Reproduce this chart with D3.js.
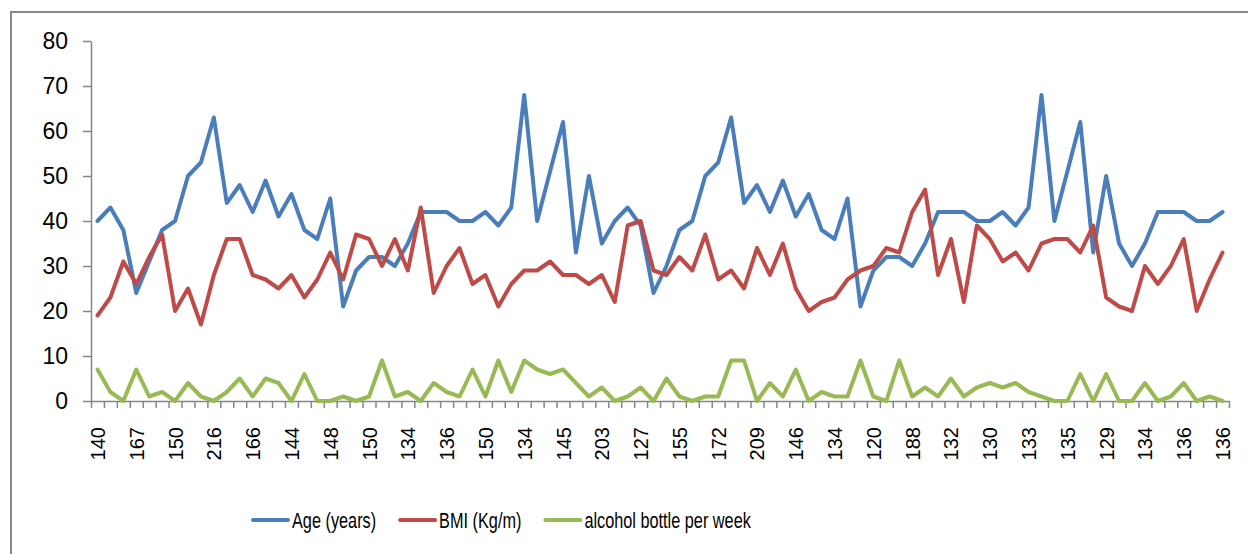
<!DOCTYPE html>
<html>
<head>
<meta charset="utf-8">
<script src="https://cdn.jsdelivr.net/npm/d3@7"></script>
<style>
  body { margin: 0; background: #fff; }
  svg { display: block; }
</style>
</head>
<body>
<svg width="1248" height="554"></svg>
<script>
// every third category label, as shown on the axis
var tickLabels = [140,167,150,216,166,144,148,150,134,136,150,134,145,203,127,
                  155,172,209,146,134,120,188,132,130,133,135,129,134,136,136];

var age = [40,43,38,24,31,38,40,50,53,63,44,48,42,49,41,46,38,36,45,21,29,32,32,30,35,42,42,42,40,40,
           42,39,43,68,40,51,62,33,50,35,40,43,39,24,30,38,40,50,53,63,44,48,42,49,41,46,38,36,45,21,
           29,32,32,30,35,42,42,42,40,40,42,39,43,68,40,51,62,33,50,35,30,35,42,42,42,40,40,42];

var bmi = [19,23,31,26,32,37,20,25,17,28,36,36,28,27,25,28,23,27,33,27,37,36,30,36,29,43,24,30,34,26,
           28,21,26,29,29,31,28,28,26,28,22,39,40,29,28,32,29,37,27,29,25,34,28,35,25,20,22,23,27,29,
           30,34,33,42,47,28,36,22,39,36,31,33,29,35,36,36,33,39,23,21,20,30,26,30,36,20,27,33];

var alcohol = [7,2,0,7,1,2,0,4,1,0,2,5,1,5,4,0,6,0,0,1,0,1,9,1,2,0,4,2,1,7,
               1,9,2,9,7,6,7,4,1,3,0,1,3,0,5,1,0,1,1,9,9,0,4,1,7,0,2,1,1,9,
               1,0,9,1,3,1,5,1,3,4,3,4,2,1,0,0,6,0,6,0,0,4,0,1,4,0,1,0];

var seriesNames = ["Age (years)", "BMI (Kg/m)", "alcohol bottle per week"];
var seriesColors = ["#4a7ebb", "#be4b48", "#98b954"];
var seriesData = [age, bmi, alcohol];

var yTicks = [0,10,20,30,40,50,60,70,80];

var svg = d3.select("svg");
var n = age.length;

var plotLeft = 91, plotRight = 1229, plotTop = 41, plotBottom = 401;

var x = d3.scaleLinear().domain([0, n]).range([plotLeft, plotRight]);
var y = d3.scaleLinear().domain([0, 80]).range([plotBottom, plotTop]);

// outer chart border
svg.append("rect")
    .attr("x", 11)
    .attr("y", 12)
    .attr("width", 1260)
    .attr("height", 560)
    .style("fill", "none")
    .style("stroke", "#888")
    .style("stroke-width", 2);

// y axis
var yAxis = svg.append("g")
    .attr("transform", "translate(" + plotLeft + ",0)")
    .call(d3.axisLeft(y).tickValues(yTicks).tickSize(8).tickPadding(15).tickSizeOuter(0));

yAxis.selectAll("text")
    .style("font-family", "Liberation Sans, Arial, sans-serif")
    .style("font-size", "23px")
    .style("fill", "#000");

// x axis: tick marks on category edges
var xAxis = svg.append("g")
    .attr("transform", "translate(0," + plotBottom + ")")
    .call(d3.axisBottom(x).tickValues(d3.range(n + 1)).tickSize(7).tickFormat("").tickSizeOuter(0));

// x labels every third category
var xLab = svg.append("g")
    .attr("transform", "translate(0," + plotBottom + ")")
    .call(d3.axisBottom(x)
        .tickValues(tickLabels.map(function(d, k) { return k * 3 + 0.5; }))
        .tickSize(0)
        .tickFormat(function(d) { return tickLabels[(d - 0.5) / 3]; }));

xLab.select(".domain").remove();
xLab.selectAll("text")
    .attr("transform", "rotate(-90)")
    .attr("x", -26)
    .attr("y", 0)
    .attr("dy", "0.35em")
    .style("text-anchor", "end")
    .style("font-family", "Liberation Sans, Arial, sans-serif")
    .style("font-size", "20px")
    .style("fill", "#000");

svg.selectAll(".domain, .tick line")
    .style("stroke", "#868686")
    .style("stroke-width", 1.5);

// lines
var line = d3.line()
    .x(function(d, i) { return x(i + 0.5); })
    .y(function(d) { return y(d); });

seriesData.forEach(function(s, k) {
    svg.append("path")
        .datum(s)
        .attr("d", line)
        .style("fill", "none")
        .style("stroke", seriesColors[k])
        .style("stroke-width", 4)
        .style("stroke-linejoin", "round")
        .style("stroke-linecap", "round");
});

// legend (narrow font look: squeeze text horizontally)
var squeeze = 0.74;
var legend = svg.append("g").attr("transform", "translate(253,520)");
var lx = 0;
seriesNames.forEach(function(name, k) {
    legend.append("line")
        .attr("x1", lx)
        .attr("x2", lx + 35)
        .attr("y1", 0)
        .attr("y2", 0)
        .style("stroke", seriesColors[k])
        .style("stroke-width", 4)
        .style("stroke-linecap", "round");
    var t = legend.append("text")
        .attr("transform", "translate(" + (lx + 39) + ",0) scale(" + squeeze + ",1)")
        .attr("dy", "0.35em")
        .style("font-family", "Liberation Sans, Arial, sans-serif")
        .style("font-size", "22px")
        .style("fill", "#000")
        .text(name);
    lx += 39 + t.node().getComputedTextLength() * squeeze + 24;
});
</script>
</body>
</html>
